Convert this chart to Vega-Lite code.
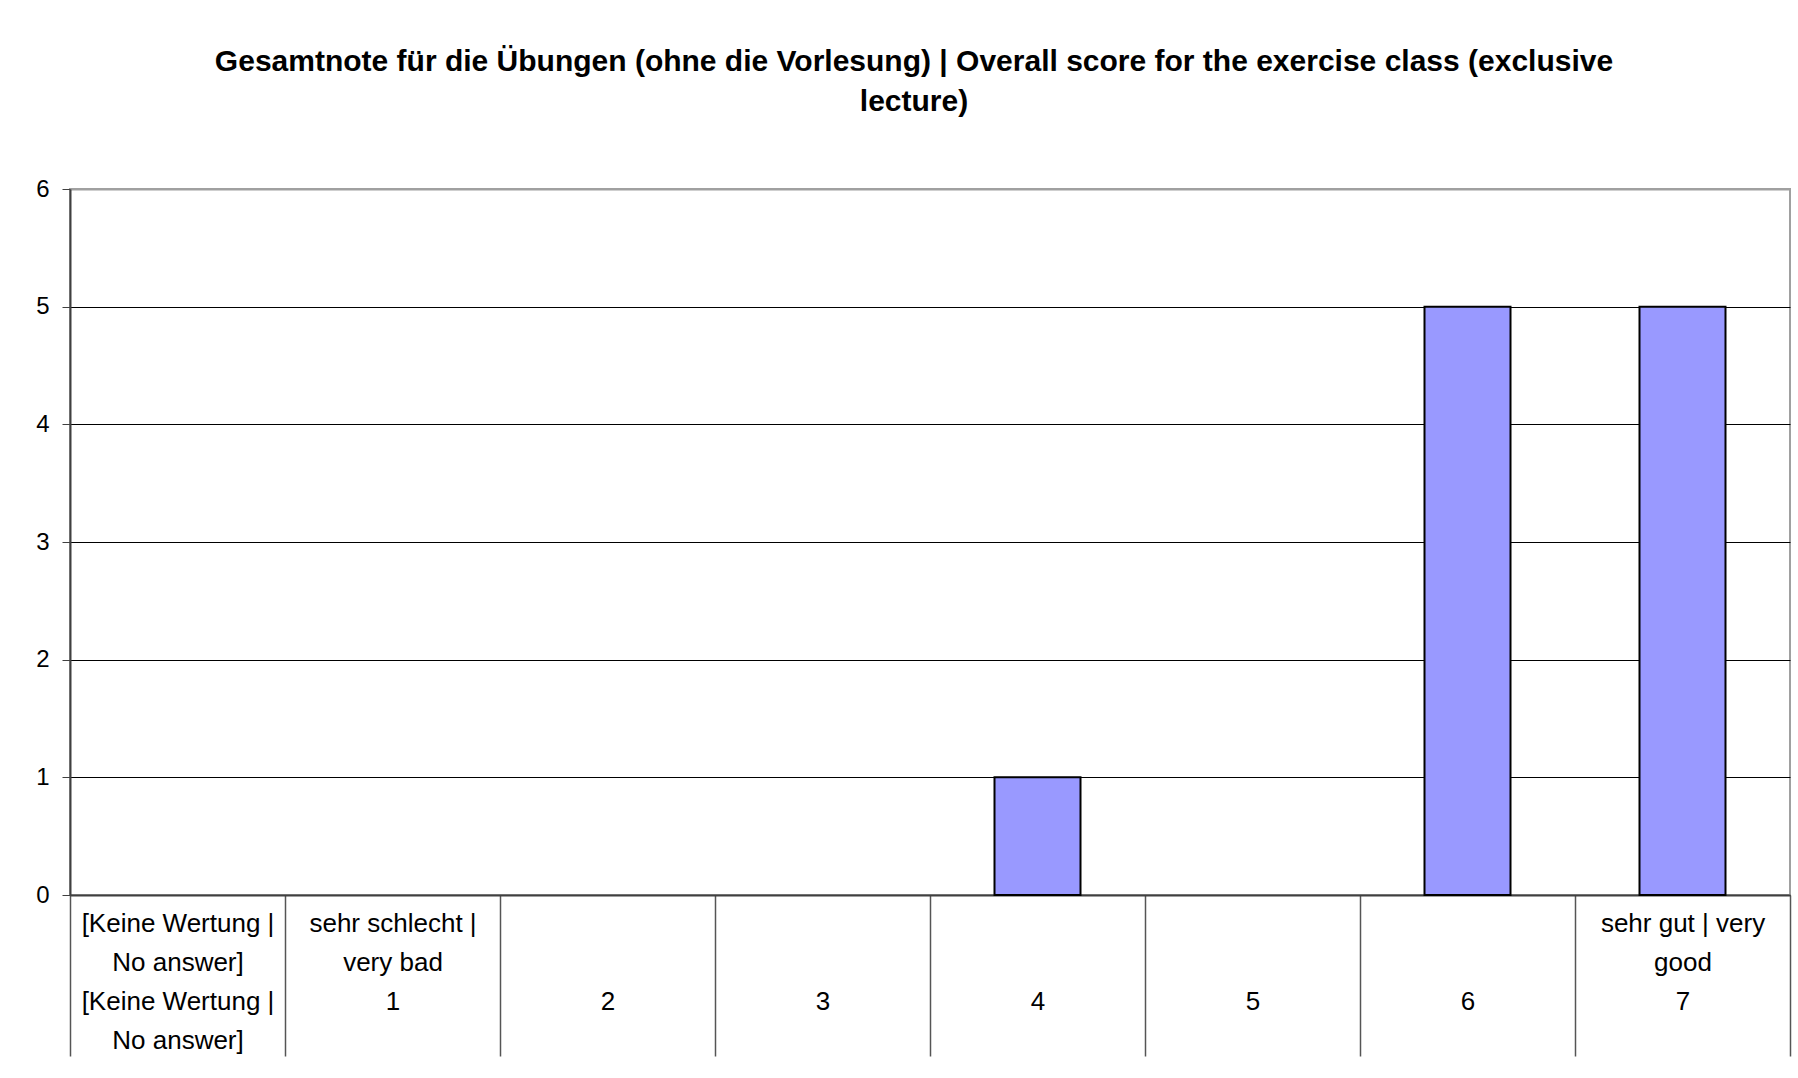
{
  "$schema": "https://vega.github.io/schema/vega-lite/v6.json",
  "width": 1720,
  "height": 706,
  "autosize": {"type": "none"},
  "padding": {"left": 70, "top": 189, "right": 8, "bottom": 183},
  "background": "white",
  "title": {
    "text": ["Gesamtnote für die Übungen (ohne die Vorlesung) | Overall score for the exercise class (exclusive", "lecture)"],
    "font": "Liberation Sans",
    "fontSize": 30,
    "fontWeight": "bold",
    "color": "black",
    "anchor": "middle",
    "frame": "group",
    "baseline": "alphabetic",
    "lineHeight": 40,
    "offset": 36,
    "dx": -16
  },
  "data": {
    "values": [
      {"category": "[Keine Wertung |\nNo answer]\n[Keine Wertung |\nNo answer]", "count": 0},
      {"category": "sehr schlecht |\nvery bad\n1", "count": 0},
      {"category": "\u200b\n\u200b\n2", "count": 0},
      {"category": "\u200b\n\u200b\n3", "count": 0},
      {"category": "\u200b\n\u200b\n4", "count": 1},
      {"category": "\u200b\n\u200b\n5", "count": 0},
      {"category": "\u200b\n\u200b\n6", "count": 5},
      {"category": "sehr gut | very\ngood\n7", "count": 5}
    ]
  },
  "mark": {
    "type": "bar",
    "fill": "#9999FF",
    "strokeWidth": 2,
    "width": {"band": 0.4}
  },
  "encoding": {
    "x": {
      "field": "category",
      "type": "nominal",
      "sort": null,
      "title": null,
      "scale": {"paddingInner": 0, "paddingOuter": 0},
      "axis": {
        "labelAngle": 0,
        "labelExpr": "split(datum.label, '\\n')",
        "labelFont": "Liberation Sans",
        "labelFontSize": 26,
        "labelColor": "black",
        "labelLineHeight": 39,
        "labelBaseline": "alphabetic",
        "labelAlign": "center",
        "labelPadding": -125,
        "labelOverlap": false,
        "labelBound": false,
        "labelLimit": 400,
        "tickBand": "extent",
        "tickSize": 161,
        "tickColor": "#555555",
        "tickWidth": 1.5,
        "domainColor": "#404040",
        "domainWidth": 2,
        "grid": false
      }
    },
    "y": {
      "field": "count",
      "type": "quantitative",
      "title": null,
      "scale": {"domain": [0, 6], "nice": false},
      "axis": {
        "values": [0, 1, 2, 3, 4, 5, 6],
        "labelFont": "Liberation Sans",
        "labelFontSize": 24,
        "labelColor": "black",
        "labelPadding": 13,
        "tickSize": 8,
        "tickColor": "#404040",
        "tickWidth": 1,
        "domainColor": "#404040",
        "domainWidth": 2,
        "grid": true,
        "gridColor": {"condition": {"test": "datum.value == 6", "value": "#a0a0a0"}, "value": "black"},
        "gridWidth": {"condition": {"test": "datum.value == 6", "value": 2}, "value": 1},
        "gridOpacity": 1
      }
    },
    "stroke": {
      "condition": {"test": "datum.count > 0", "value": "black"},
      "value": "transparent"
    }
  },
  "config": {
    "view": {"stroke": "#a0a0a0", "strokeWidth": 2}
  }
}
